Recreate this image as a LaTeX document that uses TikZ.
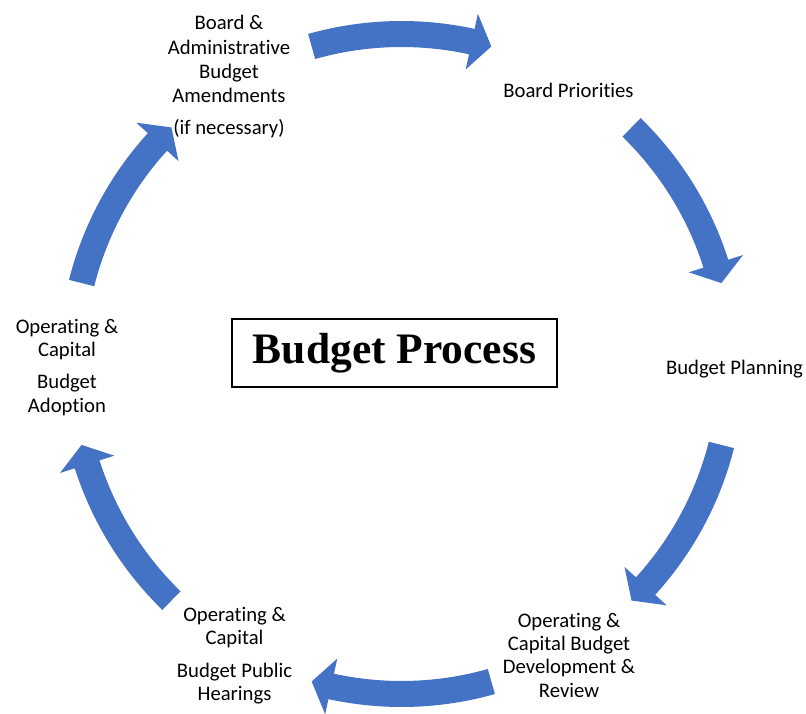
\documentclass[tikz,border=0pt]{standalone}
\usepackage{fontspec}
\setmainfont[Ligatures=NoCommon]{Carlito}
\newfontfamily\titlefont{Liberation Serif}
\definecolor{arrowblue}{HTML}{4472C4}
\newcommand\cyclearrow[1]{%
  \fill[arrowblue] ({#1+15.8}:343pt) arc[start angle={#1+15.8}, end angle={#1-12.3}, radius=343pt]
    -- ({#1-12.3}:358.5pt) -- ({#1-15.8}:330pt) -- ({#1-12.3}:301.5pt)
    -- ({#1-12.3}:317pt) arc[start angle={#1-12.3}, end angle={#1+15.8}, radius=317pt] -- cycle;}
\begin{document}
\begin{tikzpicture}[x=1pt,y=1pt,
  lbl/.style={align=center, anchor=base, inner sep=0pt, font=\fontsize{20.7}{23.3}\selectfont, text=black},
  titlebox/.style={draw=black, line width=1.2pt, minimum width=325pt, minimum height=68pt, inner sep=0pt,
     font=\titlefont\bfseries\fontsize{43.5}{48}\selectfont}]
\useasboundingbox (0,0) rectangle (806,-714);
\begin{scope}[shift={(401.5,-364)}]
  \foreach \c in {90,30,-30,-90,-150,150} {\cyclearrow{\c}}
\end{scope}
\node[titlebox] (title) at (394.5,-353) {\raisebox{-7pt}{Budget Process}};
\node[lbl, font=\fontsize{20.7}{24.3}\selectfont] (amend) at (229,-135) {Board \&\\Administrative\\Budget\\Amendments\\[7.8pt](if necessary)};
\node[lbl] (prio) at (568.5,-98) {Board Priorities};
\node[lbl] (plan) at (734.5,-374) {Budget Planning};
\node[lbl] (dev) at (569,-697) {Operating \&\\Capital Budget\\Development \&\\Review};
\node[lbl] (hear) at (234.5,-700.5) {Operating \&\\Capital\\[9pt]Budget Public\\Hearings};
\node[lbl] (adopt) at (67,-412) {Operating \&\\Capital\\[9pt]Budget\\Adoption};
\end{tikzpicture}
\end{document}
